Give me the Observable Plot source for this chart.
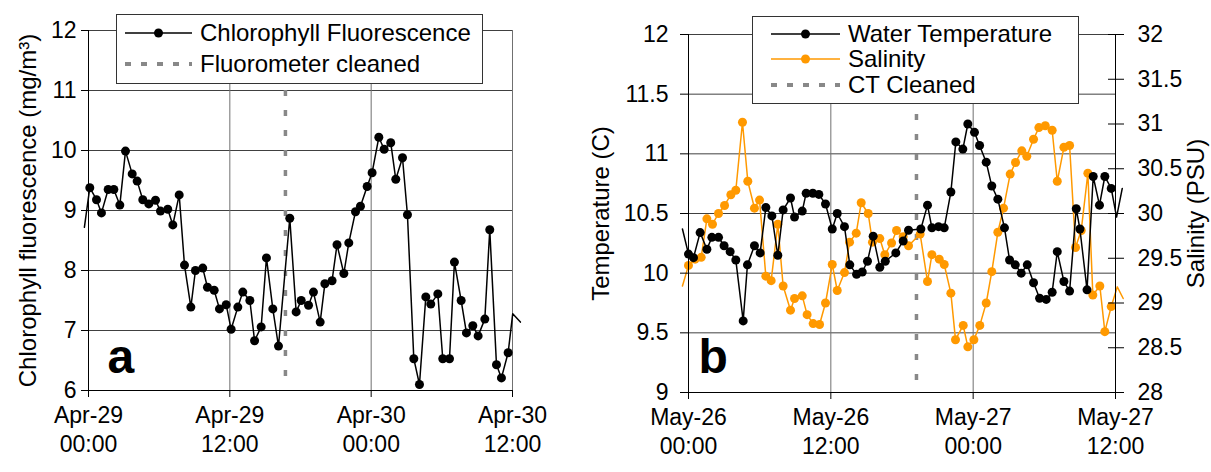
<!DOCTYPE html>
<html><head><meta charset="utf-8">
<script src="https://cdn.jsdelivr.net/npm/d3@7"></script>
<script src="https://cdn.jsdelivr.net/npm/@observablehq/plot@0.6"></script>
<style>
body{margin:0;background:#fff;font-family:"Liberation Sans",Arial,sans-serif;}
#wrap{position:relative;width:1211px;height:472px;overflow:hidden;background:#fff;}
#left,#right{position:absolute;top:0;}
#left{left:0px} #right{left:560px}
.legend{position:absolute;background:#fff;border:1px solid #333;box-sizing:border-box;}
.legend svg{position:absolute;left:0;top:0;}
svg{overflow:visible}
</style></head><body>
<div id="wrap"><div id="left"></div><div id="right"></div>
<div class="legend" id="legA"></div><div class="legend" id="legB"></div></div>
<script>
// ---------- data: panel a (hours since Apr-29 00:00) ----------
const chlHours = [-0.35,0.11,0.68,1.10,1.67,2.15,2.66,3.14,3.71,4.13,4.61,5.12,5.69,6.11,6.73,7.16,7.70,8.15,8.69,9.08,9.70,10.10,10.67,11.12,11.69,12.11,12.68,13.10,13.70,14.10,14.66,15.11,15.65,16.13,17.09,17.63,18.06,18.68,19.10,19.67,20.07,20.68,21.10,21.68,22.10,22.67,23.09,23.66,24.08,24.65,25.10,25.66,26.09,26.66,27.08,27.62,28.10,28.64,29.06,29.66,30.08,30.65,31.07,31.64,32.09,32.63,33.08,33.65,34.07,34.64,35.06,35.63,36.02,36.67];
const chlValues = [8.72,9.38,9.18,8.96,9.35,9.35,9.09,9.99,9.61,9.49,9.18,9.11,9.17,8.99,9.02,8.76,9.26,8.09,7.39,8.00,8.04,7.72,7.67,7.36,7.43,7.02,7.39,7.64,7.50,6.83,7.06,8.21,7.36,6.74,8.87,7.31,7.50,7.42,7.64,7.14,7.78,7.83,8.43,7.95,8.46,8.98,9.07,9.40,9.63,10.22,10.02,10.13,9.52,9.88,8.93,6.53,6.10,7.56,7.44,7.61,6.53,6.53,8.14,7.50,6.96,7.08,6.91,7.19,8.68,6.43,6.21,6.63,7.28,7.14];
const fluorometerCleaned = 16.72;
const chlTicks = [6,7,8,9,10,11,12];
const xTicks = [0,12,24,36];
const xLabelsA = ["Apr-29\n00:00","Apr-29\n12:00","Apr-30\n00:00","Apr-30\n12:00"];

// ---------- data: panel b (hours since May-26 00:00) ----------
const tempHours = [-0.51,0.00,0.42,0.98,1.55,1.97,2.53,3.00,3.51,3.99,4.61,4.97,5.56,6.04,6.52,7.03,7.53,7.98,8.60,8.94,9.59,9.92,10.48,10.99,11.55,12.12,12.54,13.15,13.60,14.17,14.65,15.09,15.57,16.13,16.59,17.48,18.10,18.55,19.59,20.15,20.52,21.08,21.56,22.12,22.54,23.13,23.55,24.11,24.54,25.10,25.57,26.08,26.64,27.07,27.55,28.05,28.56,29.09,29.60,30.16,30.66,31.09,31.65,32.13,32.69,33.00,33.60,34.12,34.65,35.10,35.64,36.09,36.57];
const tempValues = [10.37,10.16,10.13,10.34,10.20,10.30,10.30,10.23,10.18,10.11,9.60,10.07,10.23,10.17,10.55,10.48,10.15,10.53,10.63,10.47,10.52,10.67,10.67,10.66,10.58,10.37,10.50,10.39,10.07,9.99,10.01,10.10,10.31,10.05,10.10,10.17,10.27,10.36,10.37,10.57,10.38,10.39,10.38,10.68,11.10,11.04,11.25,11.18,11.07,10.93,10.73,10.62,10.38,10.11,10.07,10.00,10.07,9.92,9.79,9.78,9.84,10.18,9.93,9.85,10.54,10.37,9.86,10.81,10.57,10.81,10.71,10.47,10.71];
const salHours = [-0.51,0.00,0.56,1.07,1.55,2.02,2.53,3.04,3.57,3.99,4.55,5.00,5.56,5.99,6.52,6.97,7.53,7.98,8.60,8.94,9.59,10.00,10.51,11.05,11.55,12.12,12.54,13.15,13.58,14.14,14.56,15.15,15.51,16.13,16.55,17.12,17.54,18.10,18.55,19.53,20.15,20.52,21.14,21.56,22.12,22.51,23.16,23.55,24.06,24.56,25.10,25.57,26.08,26.56,27.12,27.57,28.10,28.52,29.09,29.54,30.08,30.66,31.09,31.65,32.13,32.63,33.11,33.67,34.09,34.68,35.10,35.64,36.15,36.65];
const salValues = [29.19,29.42,29.49,29.51,29.94,29.88,30.00,30.09,30.21,30.26,31.02,30.36,30.06,30.15,29.30,29.25,29.88,29.19,28.92,29.05,29.08,28.87,28.77,28.76,29.00,29.43,29.14,29.34,29.68,29.78,30.12,30.00,29.68,29.72,29.54,29.67,29.81,29.74,29.64,29.77,29.24,29.54,29.49,29.43,29.11,28.59,28.75,28.51,28.59,28.75,29.00,29.35,29.79,30.06,30.44,30.57,30.70,30.64,30.83,30.96,30.98,30.93,30.36,30.74,30.76,29.62,29.81,30.45,29.09,29.19,28.68,28.96,29.18,29.05];
const ctCleaned = 19.22;
const tempTicks = [9,9.5,10,10.5,11,11.5,12];
const salTicks = [28,28.5,29,29.5,30,30.5,31,31.5,32];
const xLabelsB = ["May-26\n00:00","May-26\n12:00","May-27\n00:00","May-27\n12:00"];

const FONT = '"Liberation Sans", Arial, sans-serif';
const ORANGE = "#FF9900";

// ---------- build tables ----------
const chl = chlHours.map((h, i) => ({h, v: chlValues[i]}));
const temp = tempHours.map((h, i) => ({h, v: tempValues[i]}));
// salinity drawn on the temperature scale: 28..32 PSU <-> 9..12 C
const salToT = s => 9 + (s - 28) * 0.75;
const sal = salHours.map((h, i) => ({h, v: salToT(salValues[i])}));
const inRange = d => d.h >= 0 && d.h <= 36;
const num = d => String(d);

const left = Plot.plot({
  width: 560, height: 472,
  marginLeft: 88, marginRight: 48, marginTop: 30, marginBottom: 82,
  style: {fontFamily: FONT, fontSize: "23px", color: "#000", background: "none", overflow: "visible"},
  x: {domain: [0, 36]},
  y: {domain: [6, 12]},
  marks: [
    Plot.gridY(chlTicks, {stroke: "#404040", strokeOpacity: 1}),
    Plot.gridX(xTicks, {stroke: "#707070", strokeOpacity: 1}),
    Plot.ruleX([fluorometerCleaned], {stroke: "#888", strokeWidth: 3.5, strokeDasharray: "6,14"}),
    Plot.line(chl, {x: "h", y: "v", stroke: "#000", strokeWidth: 1.5}),
    Plot.dot(chl.filter(inRange), {x: "h", y: "v", r: 4.5, fill: "#000"}),
    Plot.axisY(chlTicks, {tickSize: 7, tickPadding: 5, label: null, fontSize: 23, tickFormat: num}),
    Plot.axisX(xTicks, {tickSize: 7, tickPadding: 5, label: null, fontSize: 23, lineHeight: 1.25,
      tickFormat: d => xLabelsA[xTicks.indexOf(d)]}),
    Plot.ruleY([6], {stroke: "#000"}),
    Plot.ruleX([0], {stroke: "#000"}),
    Plot.text(["Chlorophyll fluorescence (mg/m³)"], {frameAnchor: "left", textAnchor: "middle", rotate: -90, dx: -60, fontSize: 24}),
    Plot.text(["a"], {frameAnchor: "bottom-left", textAnchor: "start", lineAnchor: "bottom", dx: 19, dy: -18, fontSize: 48, fontWeight: "bold"})
  ]
});
document.getElementById("left").appendChild(left);

const right = Plot.plot({
  width: 651, height: 472,
  marginLeft: 128, marginRight: 96, marginTop: 34, marginBottom: 80,
  style: {fontFamily: FONT, fontSize: "23px", color: "#000", background: "none", overflow: "visible"},
  x: {domain: [0, 36]},
  y: {domain: [9, 12]},
  marks: [
    Plot.gridY(tempTicks, {stroke: "#404040", strokeOpacity: 1}),
    Plot.gridX(xTicks, {stroke: "#707070", strokeOpacity: 1}),
    Plot.ruleX([ctCleaned], {stroke: "#888", strokeWidth: 3.5, strokeDasharray: "6,14"}),
    Plot.line(sal, {x: "h", y: "v", stroke: ORANGE, strokeWidth: 1.5}),
    Plot.dot(sal.filter(inRange), {x: "h", y: "v", r: 4.5, fill: ORANGE}),
    Plot.line(temp, {x: "h", y: "v", stroke: "#000", strokeWidth: 1.5}),
    Plot.dot(temp.filter(inRange), {x: "h", y: "v", r: 4.5, fill: "#000"}),
    Plot.axisY(tempTicks, {tickSize: 8, tickPadding: 12, label: null, fontSize: 23, tickFormat: num}),
    Plot.axisY(salTicks.map(salToT), {anchor: "right", tickSize: 16, dx: -8, tickPadding: 14, label: null, fontSize: 23,
      tickFormat: d => String(salTicks[salTicks.map(salToT).indexOf(d)])}),
    Plot.axisX(xTicks, {tickSize: 7, tickPadding: 5, label: null, fontSize: 23, lineHeight: 1.25,
      tickFormat: d => xLabelsB[xTicks.indexOf(d)]}),
    Plot.ruleY([9], {stroke: "#000"}),
    Plot.ruleX([0], {stroke: "#000"}),
    Plot.ruleX([36], {stroke: "#000"}),
    Plot.text(["Temperature (C)"], {frameAnchor: "left", textAnchor: "middle", rotate: -90, dx: -87, fontSize: 24}),
    Plot.text(["Salinity (PSU)"], {frameAnchor: "right", textAnchor: "middle", rotate: -90, dx: 81, fontSize: 24}),
    Plot.text(["b"], {frameAnchor: "bottom-left", textAnchor: "start", lineAnchor: "bottom", dx: 10, dy: -20, fontSize: 48, fontWeight: "bold"})
  ]
});
document.getElementById("right").appendChild(right);

// ---------- legends ----------
function legend(id, box, rows) {
  const el = document.getElementById(id);
  Object.assign(el.style, {left: box.x + "px", top: box.y + "px", width: box.w + "px", height: box.h + "px"});
  const ns = "http://www.w3.org/2000/svg";
  const svg = document.createElementNS(ns, "svg");
  svg.setAttribute("width", box.w); svg.setAttribute("height", box.h);
  svg.setAttribute("font-family", FONT); svg.setAttribute("font-size", 24);
  rows.forEach(r => {
    const ln = document.createElementNS(ns, "line");
    ln.setAttribute("x1", box.l1); ln.setAttribute("x2", box.l2);
    ln.setAttribute("y1", r.y); ln.setAttribute("y2", r.y);
    ln.setAttribute("stroke", r.color);
    ln.setAttribute("stroke-width", r.dash ? 4 : 1.5);
    if (r.dash) ln.setAttribute("stroke-dasharray", "6,10");
    svg.appendChild(ln);
    if (!r.dash) {
      const c = document.createElementNS(ns, "circle");
      c.setAttribute("cx", (box.l1 + box.l2) / 2); c.setAttribute("cy", r.y); c.setAttribute("r", 4.5);
      c.setAttribute("fill", r.color); svg.appendChild(c);
    }
    const t = document.createElementNS(ns, "text");
    t.setAttribute("x", box.tx); t.setAttribute("y", r.y); t.setAttribute("dy", "0.35em");
    t.textContent = r.label; svg.appendChild(t);
  });
  el.appendChild(svg);
}
legend("legA", {x: 116, y: 14, w: 367, h: 70, l1: 8, l2: 75, tx: 83}, [
  {y: 18, color: "#000", label: "Chlorophyll Fluorescence"},
  {y: 49, color: "#888", dash: true, label: "Fluorometer cleaned"}
]);
legend("legB", {x: 752, y: 16, w: 327, h: 88, l1: 18, l2: 87, tx: 95}, [
  {y: 17, color: "#000", label: "Water Temperature"},
  {y: 42, color: ORANGE, label: "Salinity"},
  {y: 68, color: "#888", dash: true, label: "CT Cleaned"}
]);
</script></body></html>
